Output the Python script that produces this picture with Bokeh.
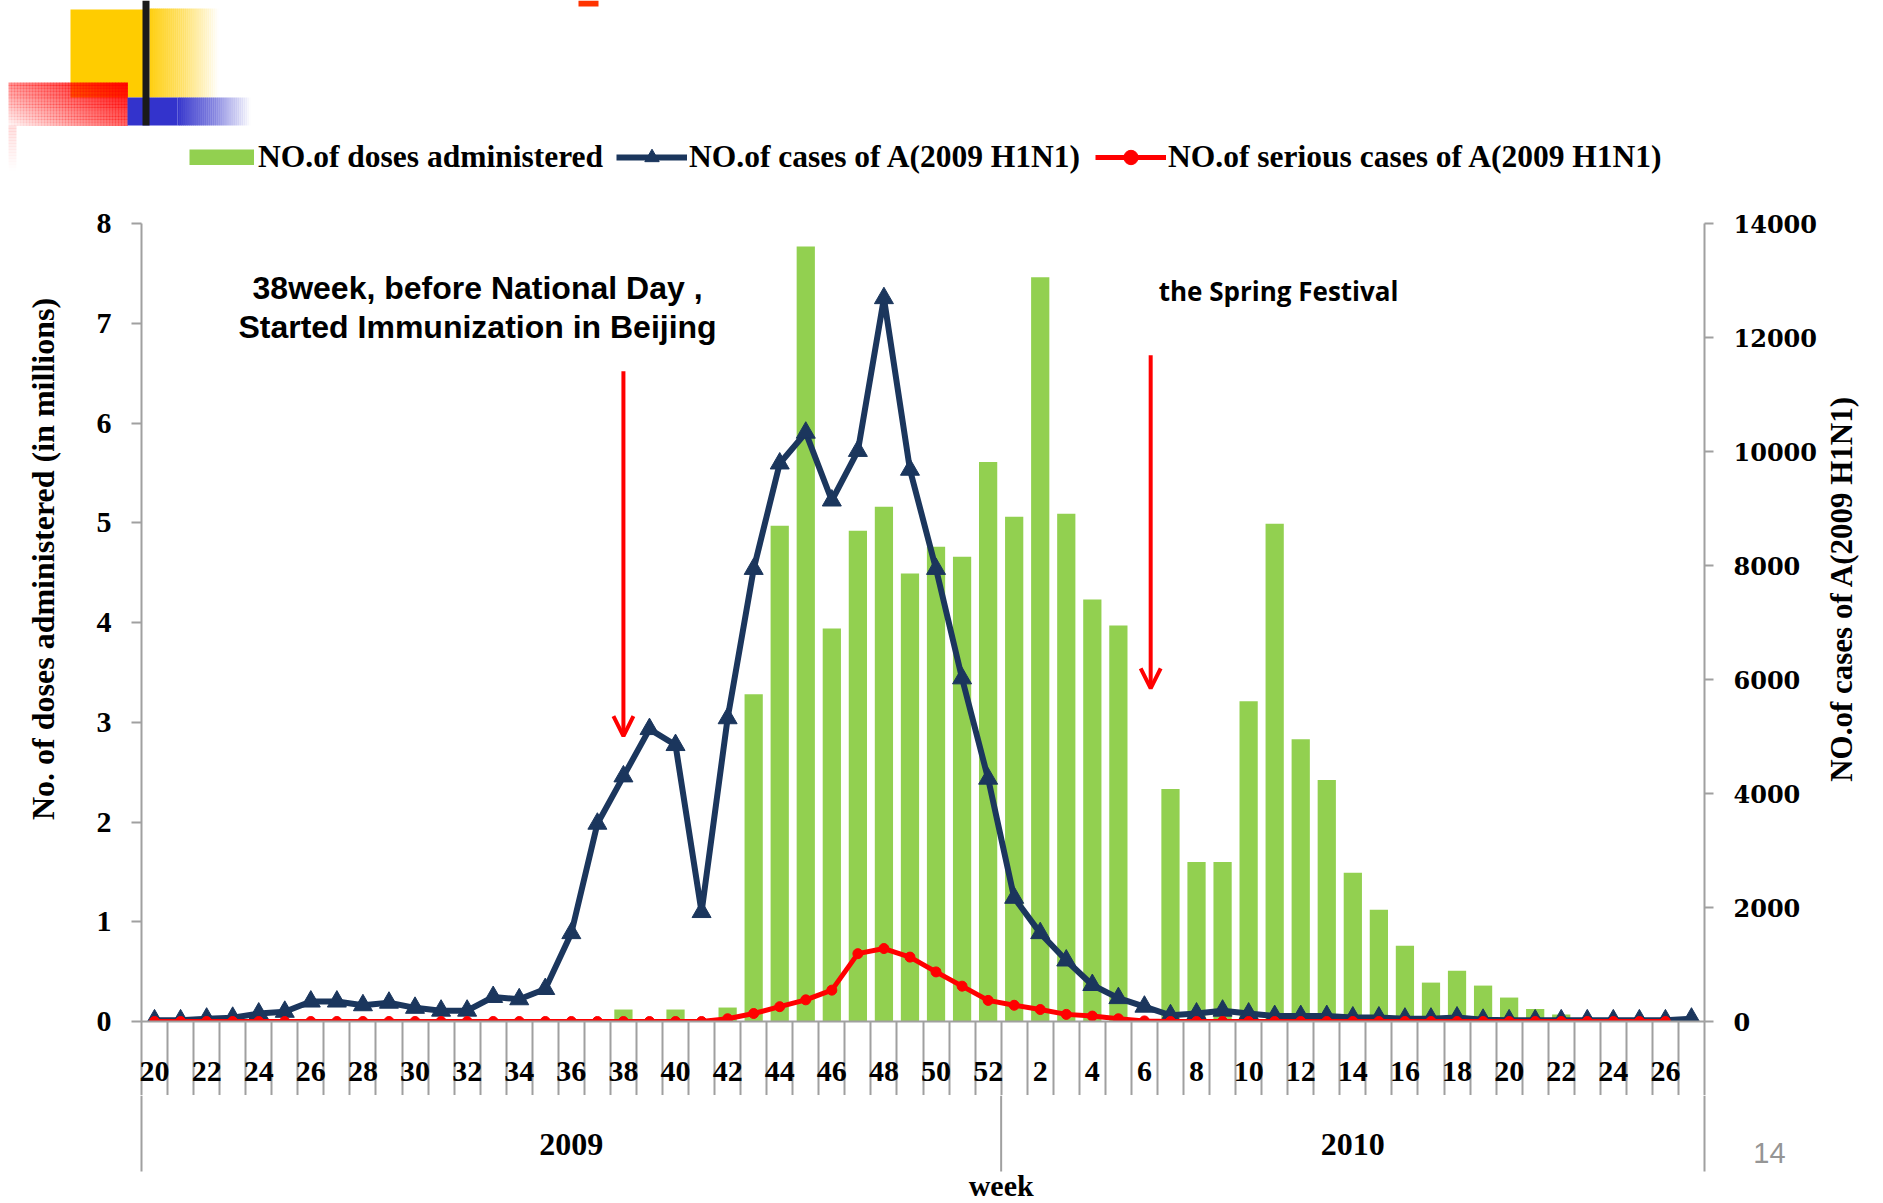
import math
from bokeh.plotting import figure
from bokeh.layouts import column, row
from bokeh.models import (Range1d, LinearAxis, FixedTicker, Legend, LegendItem, Label,
                          Arrow, OpenHead, ColumnDataSource)
from bokeh.core.properties import value
from bokeh.embed import file_html
from bokeh.resources import INLINE

# ---------------- data ----------------
weeks_2009 = list(range(20, 53))
weeks_2010 = list(range(1, 28))
year_labels = ["2009", "2010"]

doses_2009 = [0, 0, 0, 0, 0, 0, 0, 0, 0, 0, 0, 0, 0, 0, 0, 0, 0, 0,
              0.12, 0, 0.12, 0, 0.14, 3.28, 4.97, 7.77, 3.94, 4.92, 5.16, 4.49, 4.76, 4.66, 5.61]
doses_2010 = [5.06, 7.46, 5.09, 4.23, 3.97, 0, 2.33, 1.60, 1.60, 3.21, 4.99, 2.83, 2.42, 1.49,
              1.12, 0.76, 0.39, 0.51, 0.36, 0.24, 0.125, 0.07, 0.02, 0, 0, 0, 0]

cases_2009 = [20, 20, 50, 65, 140, 170, 350, 350, 285, 330, 240, 190, 190, 430, 390, 570,
              1550, 3470, 4300, 5130, 4850, 1920, 5320, 7940, 9790, 10330, 9140, 10010,
              12690, 9680, 7940, 6020, 4260]
cases_2010 = [2170, 1550, 1070, 640, 410, 260, 110, 140, 190, 140, 95, 95, 95, 70, 70, 50,
              50, 70, 30, 20, 20, 20, 20, 20, 20, 20, 50]

serious_2009 = [0] * 22 + [48, 140, 260, 380, 550, 1190, 1280, 1130, 870, 620, 370]
serious_2010 = [285, 210, 125, 95, 48, 10] + [0] * 20 + [float("nan")]

week_numbers = weeks_2009 + weeks_2010
doses = doses_2009 + doses_2010
cases = cases_2009 + cases_2010
serious = serious_2009 + serious_2010
idx = list(range(len(week_numbers)))
n09 = len(weeks_2009)
n = len(idx)

src = ColumnDataSource(dict(x=idx, doses=doses, cases=cases, serious=serious))

# ---------------- styles / geometry ----------------
GRAY = "#A0A0A0"
GREEN = "#92D050"
NAVY = "#1B365D"
RED = "#FF0000"
SERIF = "Liberation Serif"
NAN = float("nan")

W, H = 1883, 1203
TOP_H = 203            # strip holding legend + slide decoration
MID_H = 892            # main chart (frame 223..1021 on the page)
BOT_H = H - TOP_H - MID_H
LEFT_W, RIGHT_W = 70, 63
MAIN_W = W - LEFT_W - RIGHT_W
FR_L, FR_R = 141.0, 1704.0          # frame edges, page px


def dx(X):
    """page x (px) -> category coordinate of the main x scale"""
    return -0.5 + (X - FR_L) / (FR_R - FR_L) * n


def blank(w, h, xr, yr):
    f = figure(width=w, height=h, x_range=xr, y_range=yr, output_backend="svg",
               toolbar_location=None, title=None, min_border=0,
               x_axis_location=None, y_axis_location=None)
    f.outline_line_color = None
    f.grid.visible = False
    f.background_fill_color = "white"
    f.border_fill_color = "white"
    return f


# ================= main chart =================
p = figure(width=MAIN_W, height=MID_H, x_range=Range1d(-0.5, n - 0.5), y_range=Range1d(0, 8),
           output_backend="svg", toolbar_location=None, title=None,
           min_border_left=int(FR_L) - LEFT_W, min_border_right=LEFT_W + MAIN_W - int(FR_R),
           min_border_top=20, min_border_bottom=74,
           x_axis_location=None, y_axis_location=None)
p.extra_y_ranges = {"cases": Range1d(0, 14000)}
p.outline_line_color = None
p.grid.visible = False
p.background_fill_color = "white"
p.border_fill_color = "white"

lax = LinearAxis(ticker=FixedTicker(ticks=list(range(0, 9))))
rax = LinearAxis(y_range_name="cases", ticker=FixedTicker(ticks=list(range(0, 14001, 2000))))
for ax, font, size in ((lax, SERIF, "30px"), (rax, "DejaVu Serif", "24px")):
    ax.axis_line_color = GRAY
    ax.axis_line_width = 2
    ax.major_tick_line_color = GRAY
    ax.major_tick_line_width = 2
    ax.major_tick_in = 0
    ax.minor_tick_line_color = None
    ax.major_label_text_font = font
    ax.major_label_text_font_style = "bold"
    ax.major_label_text_font_size = size
    ax.major_label_text_color = "black"
lax.major_tick_out = 10
lax.major_label_standoff = 20
rax.major_tick_out = 9
rax.major_label_standoff = 20
p.add_layout(lax, "left")
p.add_layout(rax, "right")

week_ticks = [i for i in idx if i % 2 == 0]
boundaries = [i - 0.5 for i in range(n + 1)]
xax = LinearAxis(ticker=FixedTicker(ticks=week_ticks, minor_ticks=boundaries),
                 major_label_overrides={i: str(week_numbers[i]) for i in week_ticks})
xax.axis_line_color = GRAY
xax.axis_line_width = 2
xax.major_tick_line_color = None
xax.major_tick_in = 0
xax.major_tick_out = 0
xax.minor_tick_line_color = GRAY
xax.minor_tick_line_width = 2
xax.minor_tick_in = 0
xax.minor_tick_out = 74
xax.major_label_standoff = -34
xax.major_label_text_font = SERIF
xax.major_label_text_font_style = "bold"
xax.major_label_text_font_size = "30px"
xax.major_label_text_color = "black"
p.add_layout(xax, "below")

bars = p.vbar(x="x", top="doses", width=0.7, source=src, fill_color=GREEN, line_color=None)
p.line(x="x", y="cases", source=src, y_range_name="cases", line_color=NAVY, line_width=6,
       line_join="round")
p.scatter(x="x", y="cases", source=src, y_range_name="cases", marker="triangle", size=19,
          fill_color=NAVY, line_color=NAVY)
p.line(x="x", y="serious", source=src, y_range_name="cases", line_color=RED, line_width=5,
       line_join="round")
p.scatter(x="x", y="serious", source=src, y_range_name="cases", marker="circle", size=10,
          fill_color=RED, line_color=RED)

i38 = weeks_2009.index(38)
i6 = n09 + weeks_2010.index(6)
for xs, y0, y1 in ((i38, 6.52, 2.86), (i6 + 0.24, 6.68, 3.34)):
    p.add_layout(Arrow(end=OpenHead(size=20, line_color=RED, line_width=4),
                       x_start=xs, y_start=y0, x_end=xs, y_end=y1,
                       line_color=RED, line_width=4))
for txt, xx, yy in (("38week, before National Day ,", 12.4, 7.35),
                    ("Started Immunization in Beijing", 12.4, 6.96)):
    p.add_layout(Label(x=xx, y=yy, text=txt, text_align="center", text_baseline="middle",
                       text_font="Liberation Sans", text_font_style="bold",
                       text_font_size="32px", text_color="black"))
p.add_layout(Label(x=43.15, y=7.32, text="the Spring Festival", text_align="center",
                   text_baseline="middle", text_font="Open Sans", text_font_style="bold",
                   text_font_size="26px", text_color="black"))

# ================= axis titles (side strips) =================
lt = blank(LEFT_W, MID_H, Range1d(0, LEFT_W), Range1d(MID_H, 0))
lt.add_layout(Label(x=42, y=578 - TOP_H, text="No. of doses administered (in millions)",
                    angle=math.pi / 2, text_align="center", text_baseline="middle",
                    text_font=SERIF, text_font_style="bold", text_font_size="32px",
                    text_color="black"))
rt = blank(RIGHT_W, MID_H, Range1d(0, RIGHT_W), Range1d(MID_H, 0))
rt.add_layout(Label(x=1841 - (W - RIGHT_W), y=611 - TOP_H, text="NO.of cases of A(2009 H1N1)",
                    angle=math.pi / 2, text_align="center", text_baseline="middle",
                    text_font=SERIF, text_font_style="bold", text_font_size="31px",
                    text_color="black"))

# ================= bottom strip: year level of the category axis =================
y_top = TOP_H + MID_H
bt = blank(W, BOT_H, Range1d(dx(0), dx(W)), Range1d(H, y_top))
year_bounds = [-0.5, n09 - 0.5, n - 0.5]
year_centers = [(n09 - 1) / 2, n09 + (n - n09 - 1) / 2]
bt.segment(x0=year_bounds, x1=year_bounds, y0=[y_top] * 3, y1=[1171] * 3,
           line_color=GRAY, line_width=2)
bt.text(x=year_centers, y=[1144, 1144], text=year_labels, text_align="center",
        text_baseline="middle", text_font=value(SERIF), text_font_style="bold",
        text_font_size="32px", text_color="black")
bt.text(x=[n09 - 0.5], y=[1185], text=["week"], text_align="center", text_baseline="middle",
        text_font=value(SERIF), text_font_style="bold", text_font_size="30px",
        text_color="black")
bt.text(x=[dx(1769)], y=[1152], text=["14"], text_align="center", text_baseline="middle",
        text_font=value("Liberation Sans"), text_font_size="29px", text_color="#959595")

# ================= top strip: legend + slide decoration =================
tp = blank(W, TOP_H, Range1d(0, W), Range1d(TOP_H, 0))
deco = dict(left=[], right=[], top=[], bottom=[], color=[], alpha=[])


def box(X0, X1, Y0, Y1, color, alpha=1.0):
    deco["left"].append(X0); deco["right"].append(X1)
    deco["top"].append(Y0); deco["bottom"].append(Y1)
    deco["color"].append(color); deco["alpha"].append(alpha)


def hfade(X0, X1, Y0, Y1, color, a0, a1, step=2.0):
    k = int(math.ceil((X1 - X0) / step))
    for j in range(k):
        x0 = X0 + (X1 - X0) * j / k
        x1 = X0 + (X1 - X0) * (j + 1) / k
        t = (j + 0.5) / k
        box(x0, x1 + 0.4, Y0, Y1, color, a0 + (a1 - a0) * t)


box(70, 143, 9, 97, "#FFCC00")
hfade(149, 218, 8, 97, "#FFCC00", 0.95, 0.0)
cols, rows = 40, 14
for a in range(cols):
    for b in range(rows):
        u = (a + 0.5) / cols
        v = 1 - (b + 0.5) / rows
        x0 = 8 + (127 - 8) * a / cols
        x1 = 8 + (127 - 8) * (a + 1) / cols
        y0 = 82 + (125 - 82) * b / rows
        y1 = 82 + (125 - 82) * (b + 1) / rows
        box(x0, x1 + 0.4, y0, y1 + 0.4, "#FF0000", min(1.0, 0.03 + 0.57 * u + 0.4 * v))
box(127, 177, 97, 125, "#3333CC")
hfade(177, 250, 97, 125, "#3333CC", 1.0, 0.0)
for k in range(15):
    y0 = 125 + 45 * k / 15
    y1 = 125 + 45 * (k + 1) / 15
    box(8, 16, y0, y1 + 0.4, "#FF0000", 0.12 * (1 - (k + 0.5) / 15))
box(142, 149, 0, 125, "#1A1A1A")
box(578, 598, 0, 6, "#FF3300")
tp.quad(left="left", right="right", top="top", bottom="bottom", fill_color="color",
        fill_alpha="alpha", line_color=None, source=ColumnDataSource(deco))

# legend glyph stand-ins styled like the chart series
g_bar = tp.line(x=[NAN], y=[NAN], line_color=GREEN, line_width=16, line_cap="butt")
g_bl = tp.line(x=[NAN], y=[NAN], line_color=NAVY, line_width=6)
g_bm = tp.scatter(x=[NAN], y=[NAN], marker="triangle", size=18, fill_color=NAVY, line_color=NAVY)
g_rl = tp.line(x=[NAN], y=[NAN], line_color=RED, line_width=5)
g_rm = tp.scatter(x=[NAN], y=[NAN], marker="circle", size=10, fill_color=RED, line_color=RED)

common = dict(orientation="horizontal", padding=0, margin=0,
              label_text_font=SERIF, label_text_font_style="bold", label_text_font_size="31.5px",
              label_text_color="black", border_line_color=None, background_fill_alpha=0)
leg1 = Legend(items=[LegendItem(label="NO.of doses administered", renderers=[g_bar])],
              location=(189, 28), glyph_width=65, glyph_height=16, label_standoff=4, **common)
leg2 = Legend(items=[LegendItem(label="NO.of cases of A(2009 H1N1)", renderers=[g_bl, g_bm]),
                     LegendItem(label="NO.of serious cases of A(2009 H1N1)",
                                renderers=[g_rl, g_rm])],
              location=(616, 28), glyph_width=71, glyph_height=36, label_standoff=2,
              spacing=15, **common)
tp.add_layout(leg1)
tp.add_layout(leg2)

layout = column(tp, row(lt, p, rt), bt)
open("out.html", "w").write(file_html(layout, INLINE))
